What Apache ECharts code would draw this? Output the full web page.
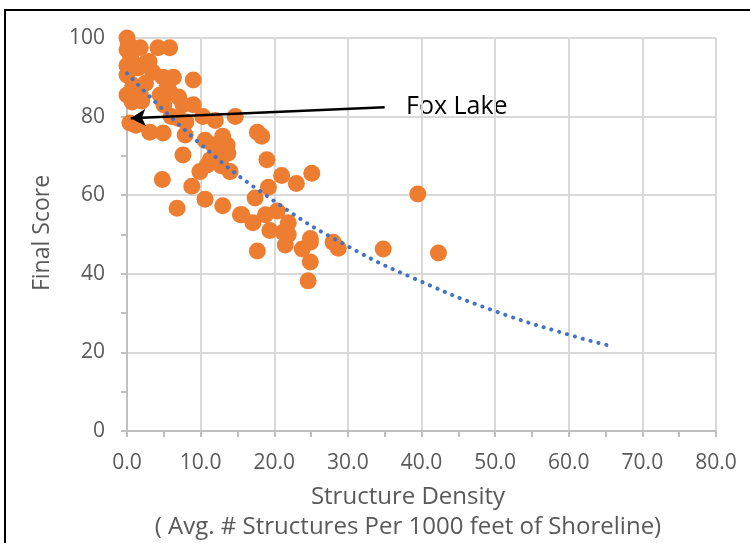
<!DOCTYPE html>
<html>
<head>
<meta charset="utf-8">
<script src="https://cdn.jsdelivr.net/npm/echarts@6/dist/echarts.min.js"></script>
<style>html,body{margin:0;padding:0;background:#fff}#c{width:750px;height:543px}</style>
</head>
<body>
<div id="c"></div>
<script>
// Structure density (x) and final score (y) for each lake
const densityX = [0,0.2,0,1.8,4.2,5.8,0.5,3,0,1.5,3.5,0,4.9,6.3,9,0.8,2.5,0,1.8,4.5,5.8,7,5,7.6,2,0.7,0.4,1.2,3.1,4.9,7.9,8,6,7,10.3,12,14.7,13,10.6,11.7,13.6,12.6,13.7,11.3,10.9,9.9,14,12.8,7.6,4.8,8.8,10.6,6.8,13,15.4,17.7,18.3,19,21,23,25.1,19.2,17.4,20.4,18.8,15.6,17.1,21.9,19.4,21.2,24.9,17.7,21.5,23.8,24.9,24.9,24.6,28,28.7,21.9,34.8,39.5,42.3,5.5,2.5,9];
const scoreY   = [100,98.5,97,97.5,97.5,97.5,95,94,93,92.4,91.3,90.6,90,90,89.3,88,88.5,85.5,85.5,85.5,86.3,85,83,83,84,83.7,78.4,77.8,76,75.8,75.3,78.6,80,79.5,80,79,80,75,74,72.8,72.8,70,70.7,69,67.7,66,66,67.5,70.2,64,62.3,59,56.7,57.3,55,76,75,69,65,63,65.6,62,59.3,56,55,55,53,53,51,50.6,49,45.8,47.3,46.3,48,43,38.2,48,46.5,50,46.3,60.3,45.3,88,93.5,83];
// Trendline values
const trendX = [0,10,20,30,40,50,60,66];
const trendY = [91,73,58.5,47,38,30.5,24.5,21.5];
// Axis ticks
const xTicks = {min:0, max:80, interval:10};
const yTicks = {min:0, max:100, interval:20};
// Annotation
const foxLabel = 'Fox Lake';
const foxArrowFrom = [35, 82.4];
const foxArrowTo = [0.5, 79.6];

const points = densityX.map((x,i)=>[x, scoreY[i]]);
const trend = trendX.map((x,i)=>[x, trendY[i]]);
const font = "'Open Sans', 'Liberation Sans', sans-serif";
const gray = '#595959';

const chart = echarts.init(document.getElementById('c'), null, {renderer:'canvas'});
chart.setOption({
  animation:false,
  backgroundColor:'#fff',
  grid:{left:127, right:34, top:38, bottom:112, containLabel:false},
  xAxis:{
    type:'value', min:xTicks.min, max:xTicks.max, interval:xTicks.interval,
    axisLine:{show:true, lineStyle:{color:'#BFBFBF', width:2}},
    axisTick:{show:true, length:6, lineStyle:{color:'#BFBFBF', width:2}},
    minorTick:{show:true, splitNumber:2, length:6, lineStyle:{color:'#BFBFBF', width:2}},
    splitLine:{show:true, lineStyle:{color:'#D9D9D9', width:2}},
    axisLabel:{color:gray, fontSize:21, fontFamily:font, margin:22, formatter:v=>v.toFixed(1)}
  },
  yAxis:{
    type:'value', min:yTicks.min, max:yTicks.max, interval:yTicks.interval,
    axisLine:{show:true, lineStyle:{color:'#BFBFBF', width:2}},
    axisTick:{show:true, length:6, lineStyle:{color:'#BFBFBF', width:2}},
    minorTick:{show:true, splitNumber:2, length:6, lineStyle:{color:'#BFBFBF', width:2}},
    splitLine:{show:true, lineStyle:{color:'#D9D9D9', width:2}},
    axisLabel:{color:gray, fontSize:21, fontFamily:font, margin:22}
  },
  series:[
    {
      type:'scatter', data:points, symbolSize:17,
      itemStyle:{color:'#ED7D31', opacity:1},
      z:2,
      markLine:{
        silent:true, symbol:['none','arrow'], symbolSize:[13,15],
        lineStyle:{color:'#000', width:2.5, type:'solid'},
        label:{show:false},
        data:[[{coord:foxArrowFrom},{coord:foxArrowTo}]]
      }
    },
    {
      type:'line', data:trend, smooth:true, showSymbol:false, symbol:'none',
      lineStyle:{color:'#4472C4', width:4, type:[0.1,8], cap:'round'},
      z:3
    }
  ],
  graphic:[
    {type:'rect', shape:{x:5, y:10, width:800, height:600}, style:{fill:null, stroke:'#000', lineWidth:2}, silent:true},
    {type:'text', x:406, y:107, style:{text:foxLabel, fill:'#000', font:"25px "+font, verticalAlign:'middle', align:'left'}},
    {type:'text', x:408, y:497, style:{text:'Structure Density', fill:gray, font:"24px "+font, align:'center', verticalAlign:'middle'}},
    {type:'text', x:408, y:527, style:{text:'( Avg. # Structures Per 1000 feet of Shoreline)', fill:gray, font:"24px "+font, align:'center', verticalAlign:'middle'}},
    {type:'text', x:42, y:233, rotation:Math.PI/2, style:{text:'Final Score', fill:gray, font:"23px "+font, align:'center', verticalAlign:'middle'}}
  ]
});
</script>
</body>
</html>
